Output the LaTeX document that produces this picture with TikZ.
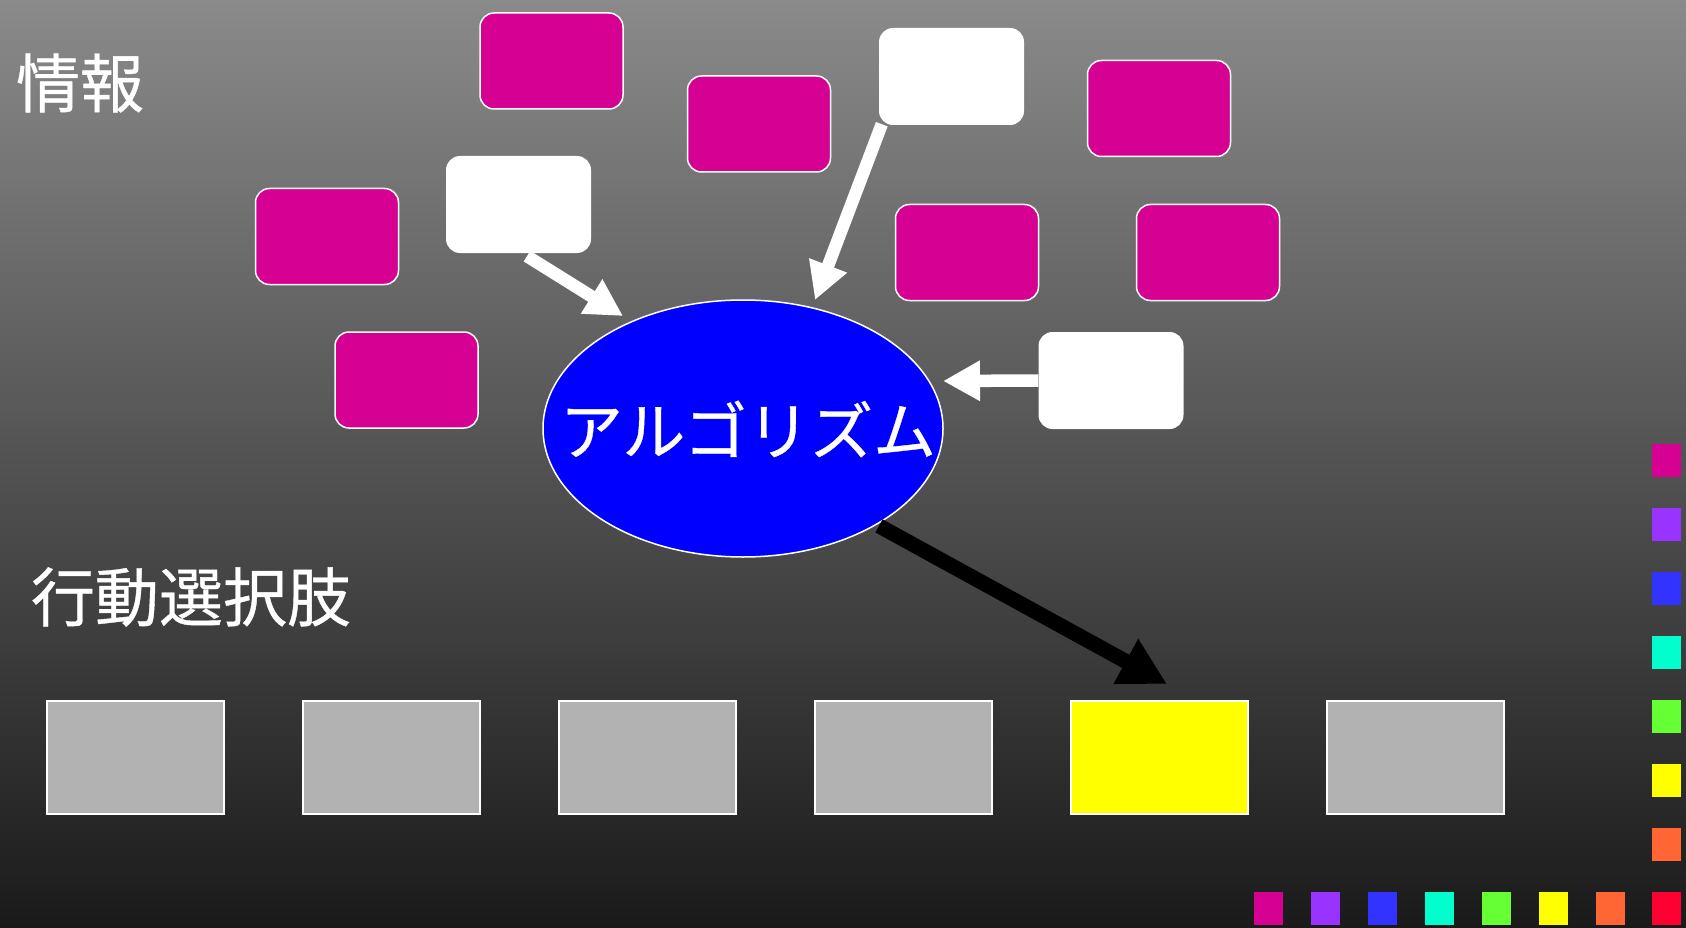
\documentclass[tikz,border=0pt]{standalone}
\usepackage{fontspec}
\newfontfamily\jp{Noto Sans CJK JP}[FakeBold=0.6]
\usetikzlibrary{arrows.meta,shapes.geometric}
\definecolor{mag}{RGB}{214,0,147}
\definecolor{bgtop}{RGB}{138,138,138}
\definecolor{bgbot}{RGB}{26,26,26}
\definecolor{gbx}{RGB}{178,178,178}
\definecolor{cpurple}{RGB}{153,51,255}
\definecolor{cblue}{RGB}{51,51,255}
\definecolor{ccyan}{RGB}{0,255,204}
\definecolor{cgreen}{RGB}{102,255,51}
\definecolor{cyellow}{RGB}{255,255,0}
\definecolor{corange}{RGB}{255,102,51}
\definecolor{cred}{RGB}{255,0,51}
\tikzset{
  mbox/.style={draw=white, line width=1.5pt, fill=mag, rounded corners=14pt, minimum width=143pt, minimum height=96pt, inner sep=0pt},
  wbox/.style={fill=white, rounded corners=14pt, minimum width=145pt, minimum height=97pt, inner sep=0pt},
  gbox/.style={draw=white, line width=2pt, fill=gbx, minimum width=177pt, minimum height=113pt, inner sep=0pt, anchor=north west},
  sq/.style={minimum width=29pt, minimum height=33pt, inner sep=0pt, anchor=north west},
  warrow/.style={draw=white, line width=12.5pt, -{Triangle[length=37pt,width=38pt]}},
  barrow/.style={draw=black, line width=15pt, -{Triangle[length=47pt,width=48pt]}},
  label/.style={text=white, inner sep=0pt, font=\jp\fontsize{64}{70}\selectfont}
}
\begin{document}
\begin{tikzpicture}[x=1pt,y=-1pt]
\useasboundingbox (0,0) rectangle (1686,928);
\shade[top color=bgtop, bottom color=bgbot] (0,0) rectangle (1686,928);

% labels
\node[label] (info) at (80,83) {情報};
\node[label] (opts) at (191,597) {行動選択肢};

% magenta boxes
\node[mbox] (m1) at (551.5,61) {};
\node[mbox] (m2) at (759,124) {};
\node[mbox] (m3) at (1159,108.5) {};
\node[mbox] (m4) at (327,236.5) {};
\node[mbox] (m5) at (967,252.5) {};
\node[mbox] (m6) at (1208,252.5) {};
\node[mbox] (m7) at (406.5,380) {};

% white boxes
\node[wbox] (w1) at (518.5,204.5) {};
\node[wbox] (w2) at (951.5,76.5) {};
\node[wbox] (w3) at (1111,380.5) {};

% algorithm ellipse
\node[ellipse, draw=white, line width=1.5pt, fill=blue, minimum width=400pt, minimum height=257pt, inner sep=0pt] (alg) at (743,428.5) {};
\node[text=white, inner sep=0pt, font=\jp\fontsize{63}{70}\selectfont] (algtext) at (748,429) {アルゴリズム};

% arrow tips
\coordinate (t1) at (623,316);
\coordinate (t2) at (815,300);
\coordinate (t3) at (943,381);
\coordinate (t4) at (1167,684);

\draw[warrow] ([xshift=8.5pt,yshift=-3pt]w1.south) -- (t1);
\draw[warrow] ([xshift=3pt,yshift=1pt]w2.south west) -- (t2);
\draw[warrow] (w3.west) -- (t3);

% action options
\node[gbox] (g1) at (46,700) {};
\node[gbox] (g2) at (302,700) {};
\node[gbox] (g3) at (558,700) {};
\node[gbox] (g4) at (814,700) {};
\node[gbox, fill=cyellow] (g5) at (1070,700) {};
\node[gbox] (g6) at (1326,700) {};

\draw[barrow] ([shift={(-6pt,-6pt)}]alg.south east) -- (t4);

% colour squares right column
\node[sq, fill=mag] (r1) at (1652,444) {};
\node[sq, fill=cpurple] (r2) at (1652,508) {};
\node[sq, fill=cblue] (r3) at (1652,572) {};
\node[sq, fill=ccyan] (r4) at (1652,636) {};
\node[sq, fill=cgreen] (r5) at (1652,700) {};
\node[sq, fill=cyellow] (r6) at (1652,764) {};
\node[sq, fill=corange] (r7) at (1652,828) {};
% bottom row
\node[sq, fill=mag] (b1) at (1254,892) {};
\node[sq, fill=cpurple] (b2) at (1311,892) {};
\node[sq, fill=cblue] (b3) at (1368,892) {};
\node[sq, fill=ccyan] (b4) at (1425,892) {};
\node[sq, fill=cgreen] (b5) at (1482,892) {};
\node[sq, fill=cyellow] (b6) at (1539,892) {};
\node[sq, fill=corange] (b7) at (1596,892) {};
\node[sq, fill=cred] (b8) at (1652,892) {};
\end{tikzpicture}
\end{document}
